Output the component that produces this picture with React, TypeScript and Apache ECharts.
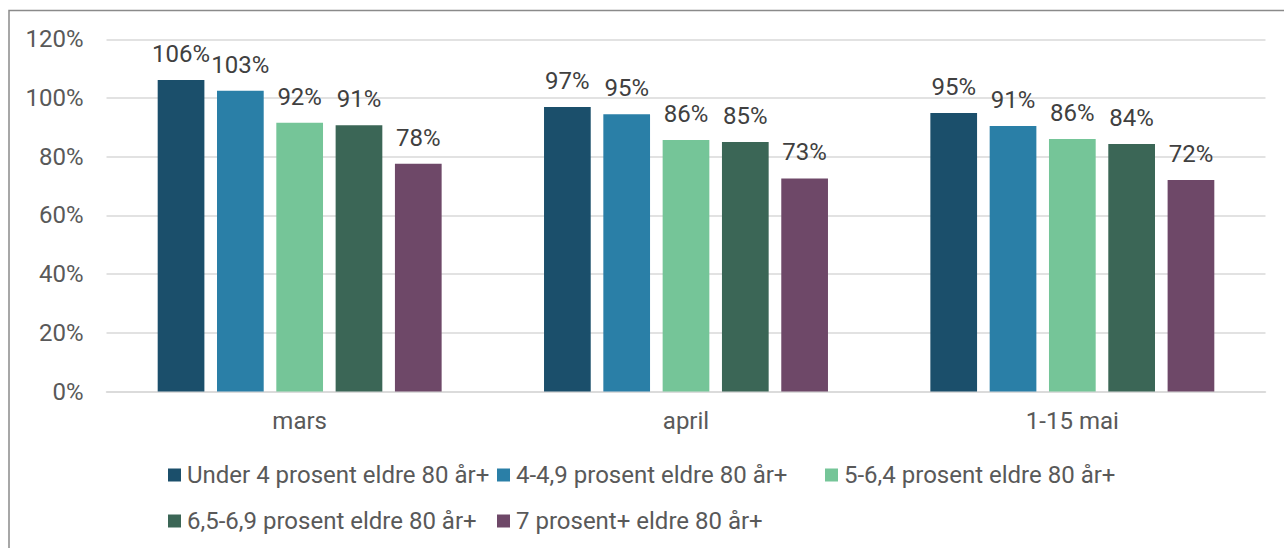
import React, { useEffect, useRef } from "react";
import * as echarts from "echarts";

const categories = ["mars", "april", "1-15 mai"];
const seriesNames = [
  "Under 4 prosent eldre 80 år+",
  "4-4,9 prosent eldre 80 år+",
  "5-6,4 prosent eldre 80 år+",
  "6,5-6,9 prosent eldre 80 år+",
  "7 prosent+ eldre 80 år+",
];
const under4 = [106.1, 96.9, 94.9];
const p4to49 = [102.5, 94.5, 90.5];
const p5to64 = [91.6, 85.7, 86.0];
const p65to69 = [90.7, 85.0, 84.3];
const p7plus = [77.6, 72.6, 72.1];
const seriesValues = [under4, p4to49, p5to64, p65to69, p7plus];
const colors = ["#1B4F6B", "#2A7FA7", "#75C598", "#3B6656", "#6E4868"];
const yTicks = { min: 0, max: 120, interval: 20 };

const FONT = "Roboto";
const FS = 24;

export default function App() {
  const ref = useRef<HTMLDivElement>(null);
  useEffect(() => {
    document.body.style.margin = "0";
    const chart = echarts.init(ref.current!, null, { renderer: "svg" });
    const legendPos = [
      { left: 168, top: 463 },
      { left: 497, top: 463 },
      { left: 825, top: 463 },
      { left: 168, top: 509 },
      { left: 497, top: 509 },
    ];
    chart.setOption({
      animation: false,
      textStyle: { fontFamily: FONT },
      color: colors,
      grid: { left: 106.5, right: 18.5, top: 39.3, bottom: 548 - 391.5, containLabel: false },
      graphic: [
        {
          type: "rect",
          shape: { x: 9, y: 10.5, width: 1300, height: 600 },
          style: { fill: "none", stroke: "#8a8a8a", lineWidth: 1.5 },
          silent: true,
        },
      ],
      legend: seriesNames.map((n, i) => ({
        data: [n],
        left: legendPos[i].left,
        top: legendPos[i].top,
        padding: 0,
        itemWidth: 13,
        itemHeight: 13,
        itemGap: 0,
        icon: "rect",
        textStyle: { fontFamily: FONT, fontSize: FS, color: "#595959", padding: [0, 0, 0, 1] },
      })),
      xAxis: {
        type: "category",
        data: categories,
        axisTick: { show: false },
        axisLine: { lineStyle: { color: "#d9d9d9", width: 1.5 } },
        axisLabel: { fontFamily: FONT, fontSize: FS, color: "#595959", margin: 17 },
      },
      yAxis: {
        type: "value",
        min: yTicks.min,
        max: yTicks.max,
        interval: yTicks.interval,
        axisLine: { show: false },
        axisTick: { show: false },
        splitLine: { lineStyle: { color: "#d9d9d9", width: 1.5 } },
        axisLabel: {
          fontFamily: FONT,
          fontSize: FS,
          color: "#595959",
          margin: 23,
          formatter: "{value}%",
        },
      },
      series: seriesNames.map((name, i) => ({
        name,
        type: "bar",
        data: seriesValues[i],
        barGap: "27%",
        barCategoryGap: "26.5%",
        itemStyle: { color: colors[i] },
        label: {
          show: true,
          position: "top",
          distance: 14,
          fontFamily: FONT,
          fontSize: FS,
          lineHeight: FS,
          color: "#404040",
          formatter: (p: any) => Math.round(p.value) + "%",
        },
      })),
    });
    return () => chart.dispose();
  }, []);
  return <div ref={ref} style={{ width: 1284, height: 548 }} />;
}
